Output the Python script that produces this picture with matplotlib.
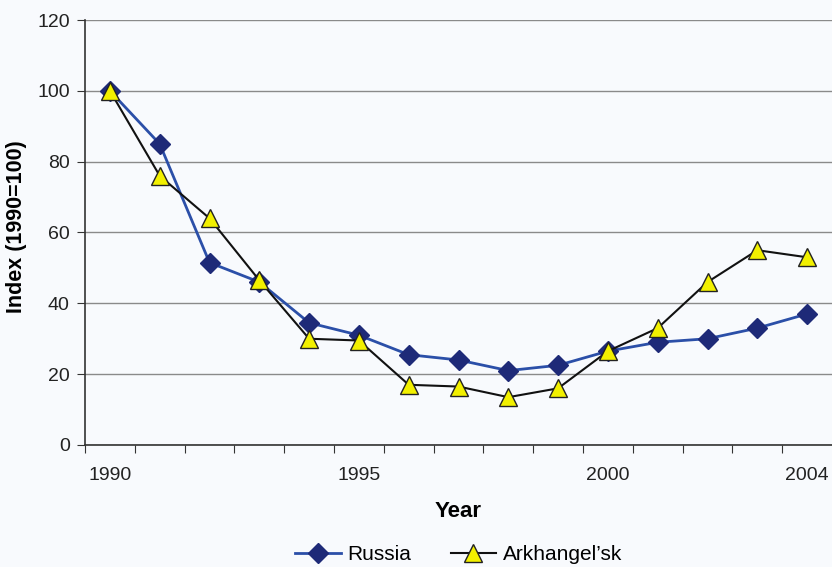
import matplotlib
matplotlib.use("Agg")
import matplotlib.pyplot as plt
from matplotlib.ticker import FixedLocator, NullFormatter

plt.rcParams['font.family'] = ['Liberation Sans', 'DejaVu Sans']

# data
years = list(range(1990, 2005))
russia = [100, 85, 51.5, 46, 34.5, 31, 25.5, 24, 21, 22.5, 26.5, 29, 30, 33, 37]
arkhangelsk = [100, 76, 64, 46.5, 30, 29.5, 17, 16.5, 13.5, 16, 26.5, 33, 46, 55, 53]
label_years = [1990, 1995, 2000, 2004]

bg = "#F8FAFD"
fig = plt.figure(figsize=(8.32, 5.67), dpi=100, facecolor=bg)
ax = fig.add_axes([0.1022, 0.2152, 0.8978, 0.7495], facecolor=bg)

x = list(range(len(years)))
ax.plot(x, russia, color="#2B4FA8", lw=2, marker="D", ms=10,
        mfc="#1E2A78", mec="#1E2A78", label="Russia", zorder=3)
ax.plot(x, arkhangelsk, color="#111111", lw=1.5, marker="^", ms=13,
        mfc="#F2F000", mec="#222222", mew=1, label="Arkhangel\u2019sk", zorder=4)

ax.set_xlim(-0.5, len(years) - 0.5)
ax.set_ylim(0, 120)
ax.set_yticks(range(0, 121, 20))
ax.yaxis.grid(True, color="#8A8A8A", lw=1)
ax.set_axisbelow(True)

# category axis: tick marks between categories, labels at selected years
ax.xaxis.set_major_locator(FixedLocator([i - 0.5 for i in range(len(years))]))
ax.xaxis.set_major_formatter(NullFormatter())
ax.xaxis.set_minor_locator(FixedLocator([years.index(y) for y in label_years]))
ax.set_xticklabels([str(y) for y in label_years], minor=True)
ax.tick_params(axis="x", which="major", length=6, color="#333333", direction="out")
ax.tick_params(axis="x", which="minor", length=0, pad=16, labelsize=14, colors="#222222")
ax.tick_params(axis="y", length=6, color="#333333", labelsize=14, colors="#222222", pad=5)

for side in ("top", "right"):
    ax.spines[side].set_visible(False)
for side in ("left", "bottom"):
    ax.spines[side].set_color("#333333")
    ax.spines[side].set_linewidth(1.2)

ax.set_xlabel("Year", fontsize=16, fontweight="bold", labelpad=12)
ax.set_ylabel("Index (1990=100)", fontsize=15.5, fontweight="bold")
ax.yaxis.set_label_coords(-0.078, 0.513)

ax.legend(loc="center", bbox_to_anchor=(0.5, -0.258), ncol=2, frameon=False,
          fontsize=15, handlelength=2.2, columnspacing=1.9, handletextpad=0.3)

fig.savefig("out.png", dpi=100, facecolor=bg)
